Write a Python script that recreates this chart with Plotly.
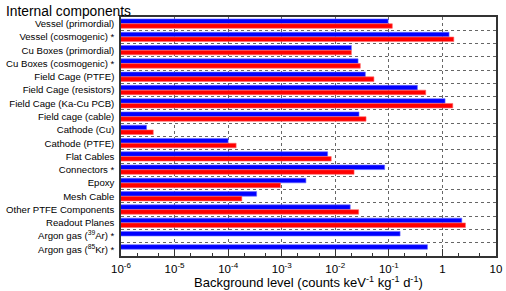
import plotly.graph_objects as go

categories = [
    "Vessel (primordial)", "Vessel (cosmogenic) *", "Cu Boxes (primordial)",
    "Cu Boxes (cosmogenic) *", "Field Cage (PTFE)", "Field Cage (resistors)",
    "Field Cage (Ka-Cu PCB)", "Field cage (cable)", "Cathode (Cu)", "Cathode (PTFE)",
    "Flat Cables", "Connectors *", "Epoxy", "Mesh Cable", "Other PTFE Components",
    "Readout Planes", "Argon gas (<sup>39</sup>Ar) *", "Argon gas (<sup>85</sup>Kr) *",
]
blue_values = [0.097, 1.33, 0.020, 0.0266, 0.0364, 0.341, 1.12, 0.0277, 3.0e-6, 1.0e-4,
               0.0072, 0.0835, 0.00283, 3.4e-4, 0.019, 2.30, 0.162, 0.525]
red_values = [0.116, 1.63, 0.020, 0.0293, 0.0526, 0.488, 1.56, 0.0375, 4.0e-6, 1.41e-4,
              0.0084, 0.0224, 9.5e-4, 1.8e-4, 0.0273, 2.69, None, None]
tick_vals = [1e-6, 1e-5, 1e-4, 1e-3, 1e-2, 1e-1, 1, 10]
tick_text = ["10<sup>-6</sup>", "10<sup>-5</sup>", "10<sup>-4</sup>", "10<sup>-3</sup>",
             "10<sup>-2</sup>", "10<sup>-1</sup>", "1", "10"]

FONT = "Liberation Sans, Arial, sans-serif"
L, R, T, B = 121, 10, 17, 35
PH = 291 - T - B
PW = 506 - L - R

fig = go.Figure()
fig.add_trace(go.Bar(y=categories, x=blue_values, orientation="h",
                     marker=dict(color="#0000ff", line=dict(color="#6666ff", width=0.6)),
                     showlegend=False))
fig.add_trace(go.Bar(y=categories, x=red_values, orientation="h",
                     marker=dict(color="#ff0000", line=dict(color="#ff6666", width=0.6)),
                     showlegend=False))

fig.update_layout(
    width=506, height=291,
    margin=dict(l=L, r=R, t=T, b=B, autoexpand=False),
    paper_bgcolor="white", plot_bgcolor="white",
    barmode="group", bargap=0.28, bargroupgap=0.05,
    font=dict(family=FONT, color="black"),
    annotations=[
        dict(text="Internal components", xref="paper", yref="paper",
             x=(4 - L) / PW, y=1 + (T - 2) / PH, xanchor="left", yanchor="top",
             showarrow=False, font=dict(size=13.8, family=FONT)),
        dict(text="Background level (counts keV<sup>-1</sup> kg<sup>-1</sup> d<sup>-1</sup>)",
             xref="paper", yref="paper", x=(308 - L) / PW, y=-(282 - (T + PH)) / PH,
             xanchor="center", yanchor="middle",
             showarrow=False, font=dict(size=13, family=FONT)),
    ],
)
fig.update_xaxes(
    type="log", range=[-6, 1], tickvals=tick_vals, ticktext=tick_text,
    tickfont=dict(size=11.5), ticks="inside", ticklen=7, tickcolor="#333",
    ticklabelstandoff=1, automargin=False,
    minor=dict(ticks="inside", ticklen=3, tickcolor="#333", showgrid=False),
    showgrid=True, gridcolor="#666", griddash="dot", gridwidth=1,
    showline=True, linecolor="#333", linewidth=1.5, mirror=True,
    zeroline=False,
)
fig.update_yaxes(
    type="category", autorange="reversed", tickson="boundaries",
    tickmode="linear", dtick=1, automargin=False,
    tickfont=dict(size=9.6), ticks="", ticklabelstandoff=3,
    showgrid=True, gridcolor="#666", griddash="dot", gridwidth=1,
    showline=True, linecolor="#333", linewidth=1.5, mirror=True,
)

fig.write_html("out.html", config={"displayModeBar": False},
               post_script="document.body.style.margin='0';")
